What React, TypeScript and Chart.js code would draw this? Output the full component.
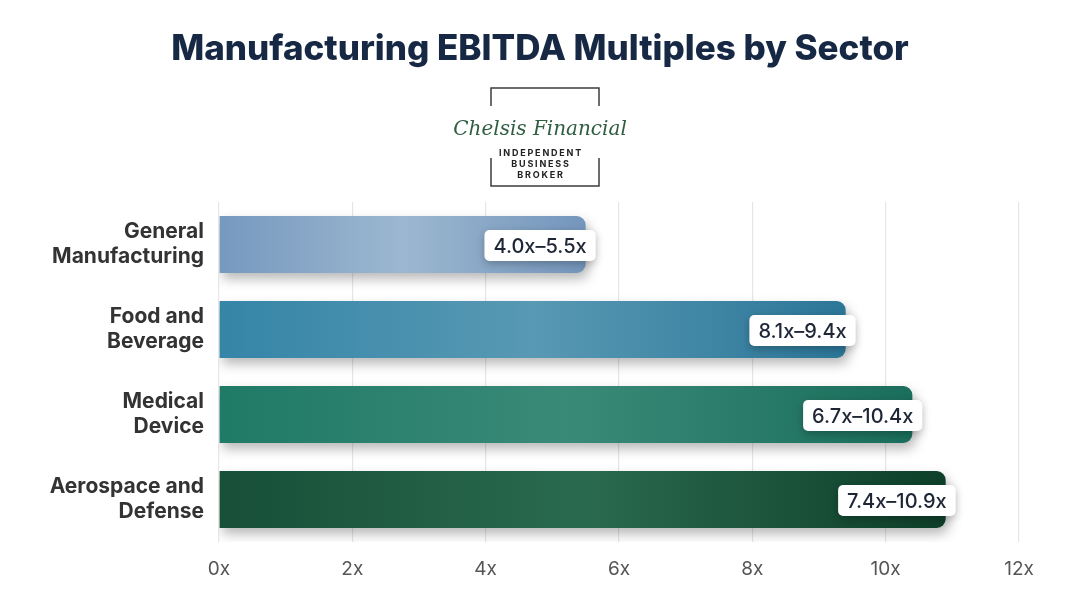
import React, { useEffect, useRef } from "react";
import { Chart, registerables } from "chart.js";

Chart.register(...registerables);

const categories: string[][] = [
  ["General", "Manufacturing"],
  ["Food and", "Beverage"],
  ["Medical", "Device"],
  ["Aerospace and", "Defense"],
];
const lowValues = [4.0, 8.1, 6.7, 7.4];
const highValues = [5.5, 9.4, 10.4, 10.9];
const xTicks = [0, 2, 4, 6, 8, 10, 12];
const barColors = [
  ["#7699bf", "#9cb7d0", "#7496bc"],
  ["#3585a7", "#5899b4", "#2c7698"],
  ["#1f7a66", "#3a8a78", "#1b6e5c"],
  ["#174f38", "#2a6a4e", "#0e3f2a"],
];

const FONT = "Inter, 'Open Sans', sans-serif";

export default function App() {
  const ref = useRef<HTMLCanvasElement | null>(null);
  useEffect(() => {
    document.body.style.margin = "0";
    document.body.style.background = "#ffffff";
    const canvas = ref.current!;
    const labels = lowValues.map((l, i) => `${l.toFixed(1)}x–${highValues[i].toFixed(1)}x`);

    const headerPlugin = {
      id: "header",
      beforeDraw(chart: any) {
        const c = chart.ctx as CanvasRenderingContext2D;
        c.save();
        c.fillStyle = "#ffffff";
        c.fillRect(0, 0, chart.width, chart.height);
        c.fillStyle = "#172845";
        c.font = `800 35px ${FONT}`;
        c.textAlign = "center";
        c.textBaseline = "middle";
        c.fillText("Manufacturing EBITDA Multiples by Sector", 540, 49);
        // logo frame
        c.strokeStyle = "#3d3d3d";
        c.lineWidth = 1.5;
        c.beginPath();
        c.moveTo(491, 106);
        c.lineTo(491, 88);
        c.lineTo(599, 88);
        c.lineTo(599, 106);
        c.moveTo(491, 158);
        c.lineTo(491, 186);
        c.lineTo(599, 186);
        c.lineTo(599, 158);
        c.stroke();
        c.fillStyle = "#2f5e42";
        c.font = `italic 20px 'DejaVu Serif', serif`;
        c.fillText("Chelsis Financial", 540, 130);
        c.fillStyle = "#222222";
        c.font = `700 9px ${FONT}`;
        (c as any).letterSpacing = "1.8px";
        c.fillText("INDEPENDENT", 541, 153);
        c.fillText("BUSINESS", 541, 164);
        c.fillText("BROKER", 541, 175);
        c.restore();
      },
    };

    const shadowPlugin = {
      id: "barShadow",
      beforeDatasetDraw(chart: any) {
        const c = chart.ctx;
        c.save();
        c.shadowColor = "rgba(0,0,0,0.28)";
        c.shadowBlur = 12;
        c.shadowOffsetX = 3;
        c.shadowOffsetY = 6;
      },
      afterDatasetDraw(chart: any) {
        chart.ctx.restore();
      },
    };

    const labelPlugin = {
      id: "rangeLabels",
      afterDatasetsDraw(chart: any) {
        const c = chart.ctx as CanvasRenderingContext2D;
        const meta = chart.getDatasetMeta(0);
        c.save();
        c.font = `500 20px ${FONT}`;
        c.textBaseline = "middle";
        c.textAlign = "center";
        meta.data.forEach((bar: any, i: number) => {
          const txt = labels[i];
          const w = c.measureText(txt).width + 18;
          const h = 31;
          const right = bar.x + 10;
          const left = right - w;
          const top = bar.y - h / 2 + 1;
          c.save();
          c.shadowColor = "rgba(0,0,0,0.25)";
          c.shadowBlur = 8;
          c.shadowOffsetY = 3;
          c.fillStyle = "#ffffff";
          c.beginPath();
          (c as any).roundRect(left, top, w, h, 5);
          c.fill();
          c.restore();
          c.fillStyle = "#1e2636";
          c.fillText(txt, left + w / 2, top + h / 2 + 1);
        });
        c.restore();
      },
    };

    const chart = new Chart(canvas, {
      type: "bar",
      data: {
        labels: categories,
        datasets: [
          {
            data: highValues,
            backgroundColor: (ctx: any) => {
              const ch = ctx.chart;
              const area = ch.chartArea;
              const i = ctx.dataIndex;
              if (!area || i === undefined) return barColors[0][0];
              const xs = ch.scales.x;
              const x0 = xs.getPixelForValue(0);
              const x1 = xs.getPixelForValue(highValues[i]);
              const g = ch.ctx.createLinearGradient(x0, 0, x1, 0);
              const cols = barColors[i];
              g.addColorStop(0, cols[0]);
              g.addColorStop(0.5, cols[1]);
              g.addColorStop(1, cols[2]);
              return g;
            },
            borderRadius: 9,
            borderSkipped: "start",
            barPercentage: 0.67,
            categoryPercentage: 1,
          },
        ],
      },
      options: {
        indexAxis: "y",
        responsive: false,
        animation: false,
        devicePixelRatio: 1,
        layout: { padding: { top: 202, right: 61, bottom: 11, left: 0 } },
        plugins: { legend: { display: false }, tooltip: { enabled: false }, title: { display: false } },
        scales: {
          x: {
            min: 0,
            max: 12,
            afterBuildTicks: (s: any) => {
              s.ticks = xTicks.map((v) => ({ value: v }));
            },
            afterFit: (s: any) => {
              s.height = 50;
            },
            grid: { color: "#e6e6e6", lineWidth: 1.2, drawTicks: false },
            border: { display: false },
            ticks: {
              padding: 16,
              color: "#555555",
              font: { family: FONT, size: 19 },
              callback: (v: any) => `${v}x`,
            },
          },
          y: {
            afterFit: (s: any) => {
              s.width = 219;
            },
            grid: { display: false },
            border: { display: false },
            ticks: {
              padding: 7,
              color: "#333333",
              font: { family: FONT, size: 21, weight: "bold", lineHeight: 1.2 },
            },
          },
        },
      },
      plugins: [headerPlugin, shadowPlugin, labelPlugin],
    } as any);
    return () => chart.destroy();
  }, []);
  return <canvas ref={ref} width={1080} height={603} style={{ display: "block" }} />;
}
